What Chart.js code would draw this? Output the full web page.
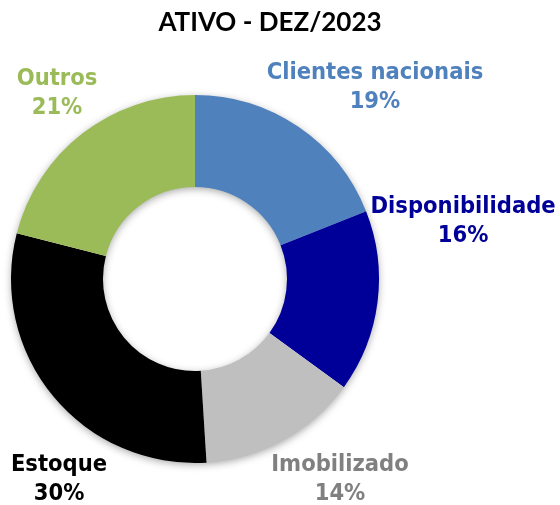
<!DOCTYPE html>
<html>
<head>
<meta charset="utf-8">
<script src="https://cdn.jsdelivr.net/npm/chart.js@4"></script>
<style>
  html, body { margin: 0; padding: 0; background: #fff; }
  #wrap { width: 560px; height: 505px; position: relative; }
</style>
</head>
<body>
<div id="wrap"><canvas id="myChart"></canvas></div>
<script>
// data
const categories = ['Clientes nacionais', 'Disponibilidade', 'Imobilizado', 'Estoque', 'Outros'];
const shares = [19, 16, 14, 30, 21];
const sliceColors = ['#4F81BD', '#000099', '#BFBFBF', '#000000', '#9BBB59'];
const labelColors = ['#4F81BD', '#000099', '#808080', '#000000', '#9BBB59'];
const chartTitle = 'ATIVO - DEZ/2023';

// label placement, in units of the outer radius from the centre
const labelOffsets = [[0.978, -1.043], [1.457, -0.315], [0.788, 1.087], [-0.739, 1.087], [-0.75, -1.011]];

// soft shadow behind the whole ring (drawn once, so slices don't shade each other)
const shadowPlugin = {
  id: 'shadow',
  beforeDatasetsDraw(chart) {
    const ctx = chart.ctx;
    const arc = chart.getDatasetMeta(0).data[0];
    ctx.save();
    ctx.shadowColor = 'rgba(0,0,0,0.4)';
    ctx.shadowBlur = 9;
    ctx.shadowOffsetY = 2;
    ctx.fillStyle = '#fff';
    ctx.beginPath();
    ctx.arc(arc.x, arc.y, arc.outerRadius - 1, 0, Math.PI * 2);
    ctx.arc(arc.x, arc.y, arc.innerRadius + 1, Math.PI * 2, 0, true);
    ctx.fill();
    ctx.restore();
  }
};

const textPlugin = {
  id: 'texts',
  afterDraw(chart) {
    const ctx = chart.ctx;
    ctx.save();
    ctx.textAlign = 'center';
    ctx.textBaseline = 'middle';
    ctx.fillStyle = '#000';
    ctx.font = 'bold 26px Lato';
    ctx.fillText(chartTitle, 270, 23);

    const arc0 = chart.getDatasetMeta(0).data[0];
    const cx = arc0.x, cy = arc0.y, R = arc0.outerRadius;
    ctx.font = 'bold 23.5px "DejaVu Sans Condensed"';
    categories.forEach((name, i) => {
      const x = cx + labelOffsets[i][0] * R;
      const y = cy + labelOffsets[i][1] * R;
      ctx.fillStyle = labelColors[i];
      ctx.fillText(name, x, y - 14);
      ctx.fillText(shares[i] + '%', x, y + 15);
    });
    ctx.restore();
  }
};

const data = {
  labels: categories,
  datasets: [{
    data: shares,
    backgroundColor: sliceColors,
    borderWidth: 0
  }]
};

const config = {
  type: 'doughnut',
  data,
  options: {
    responsive: true,
    maintainAspectRatio: false,
    animation: false,
    cutout: '50%',
    layout: { padding: { left: 11, right: 181, top: 95, bottom: 42 } },
    plugins: {
      legend: { display: false },
      title: { display: false },
      tooltip: { enabled: false }
    }
  },
  plugins: [shadowPlugin, textPlugin]
};

const myChart = new Chart(document.getElementById('myChart'), config);
</script>
</body>
</html>
